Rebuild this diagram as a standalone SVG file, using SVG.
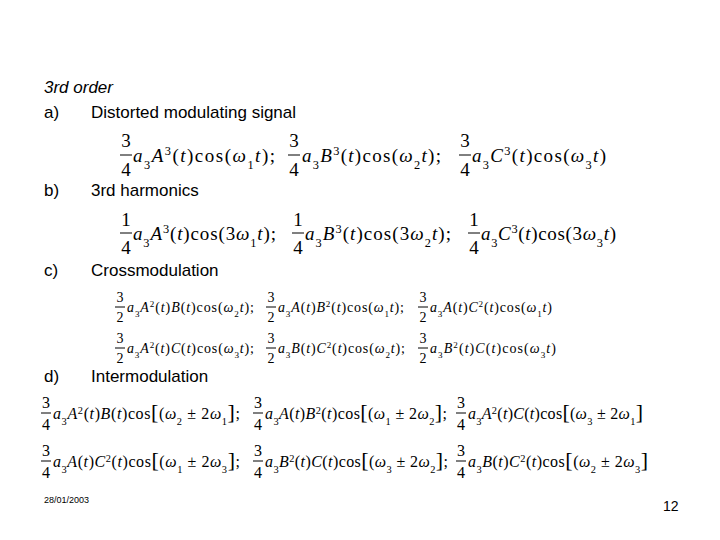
<svg xmlns="http://www.w3.org/2000/svg" width="720" height="540" viewBox="0 0 720 540">
<style>
.t{font-family:"Liberation Sans",Arial,sans-serif;font-size:17px;fill:#000}
.m{font-family:"Liberation Serif","Times New Roman",serif;fill:#000}
.i{font-style:italic}
.s{font-size:65%}
.f{font-family:"Liberation Serif","Times New Roman",serif;fill:#000;text-anchor:middle}
line{stroke:#000;stroke-width:1}
.r1{font-size:19px}.r3{font-size:14px}.r4{font-size:16px}
</style>
<rect width="720" height="540" fill="#fff"/>
<text class="t i" x="44" y="93" font-style="italic">3rd order</text>
<text class="t" x="44" y="118">a)</text><text class="t" x="91" y="118">Distorted modulating signal</text>
<text class="t" x="44" y="196">b)</text><text class="t" x="91" y="196">3rd harmonics</text>
<text class="t" x="44" y="276">c)</text><text class="t" x="91" y="276">Crossmodulation</text>
<text class="t" x="44" y="382">d)</text><text class="t" x="91" y="382">Intermodulation</text>
<text x="44" y="503" style="font-family:'Liberation Sans',Arial,sans-serif;font-size:9px">28/01/2003</text>
<text x="663" y="511" style="font-family:'Liberation Sans',Arial,sans-serif;font-size:14px">12</text>

<g id="row-a" class="r1">
<text class="f r1" x="126" y="147">3</text><line x1="120" y1="155" x2="132" y2="155"/><text class="f r1" x="126" y="176">4</text>
<text class="m r1" x="133" y="162" textLength="142" lengthAdjust="spacing"><tspan class="i">a</tspan><tspan class="s" baseline-shift="sub">3</tspan><tspan class="i">A</tspan><tspan class="s" baseline-shift="super">3</tspan>(<tspan class="i">t</tspan>)cos(<tspan class="i">ω</tspan><tspan class="s" baseline-shift="sub">1</tspan><tspan class="i">t</tspan>);</text>
<text class="f r1" x="294" y="147">3</text><line x1="288" y1="155" x2="300" y2="155"/><text class="f r1" x="294" y="176">4</text>
<text class="m r1" x="302" y="162" textLength="139" lengthAdjust="spacing"><tspan class="i">a</tspan><tspan class="s" baseline-shift="sub">3</tspan><tspan class="i">B</tspan><tspan class="s" baseline-shift="super">3</tspan>(<tspan class="i">t</tspan>)cos(<tspan class="i">ω</tspan><tspan class="s" baseline-shift="sub">2</tspan><tspan class="i">t</tspan>);</text>
<text class="f r1" x="465" y="147">3</text><line x1="459" y1="155" x2="471" y2="155"/><text class="f r1" x="465" y="176">4</text>
<text class="m r1" x="472" y="162" textLength="134" lengthAdjust="spacing"><tspan class="i">a</tspan><tspan class="s" baseline-shift="sub">3</tspan><tspan class="i">C</tspan><tspan class="s" baseline-shift="super">3</tspan>(<tspan class="i">t</tspan>)cos(<tspan class="i">ω</tspan><tspan class="s" baseline-shift="sub">3</tspan><tspan class="i">t</tspan>)</text>
</g>

<g id="row-b">
<text class="f r1" x="126" y="226">1</text><line x1="120" y1="233" x2="132" y2="233"/><text class="f r1" x="126" y="254">4</text>
<text class="m r1" x="133" y="240" textLength="143" lengthAdjust="spacing"><tspan class="i">a</tspan><tspan class="s" baseline-shift="sub">3</tspan><tspan class="i">A</tspan><tspan class="s" baseline-shift="super">3</tspan>(<tspan class="i">t</tspan>)cos(3<tspan class="i">ω</tspan><tspan class="s" baseline-shift="sub">1</tspan><tspan class="i">t</tspan>);</text>
<text class="f r1" x="298" y="226">1</text><line x1="292" y1="233" x2="304" y2="233"/><text class="f r1" x="298" y="254">4</text>
<text class="m r1" x="305" y="240" textLength="146" lengthAdjust="spacing"><tspan class="i">a</tspan><tspan class="s" baseline-shift="sub">3</tspan><tspan class="i">B</tspan><tspan class="s" baseline-shift="super">3</tspan>(<tspan class="i">t</tspan>)cos(3<tspan class="i">ω</tspan><tspan class="s" baseline-shift="sub">2</tspan><tspan class="i">t</tspan>);</text>
<text class="f r1" x="474" y="226">1</text><line x1="468" y1="233" x2="480" y2="233"/><text class="f r1" x="474" y="254">4</text>
<text class="m r1" x="481" y="240" textLength="135" lengthAdjust="spacing"><tspan class="i">a</tspan><tspan class="s" baseline-shift="sub">3</tspan><tspan class="i">C</tspan><tspan class="s" baseline-shift="super">3</tspan>(<tspan class="i">t</tspan>)cos(3<tspan class="i">ω</tspan><tspan class="s" baseline-shift="sub">3</tspan><tspan class="i">t</tspan>)</text>
</g>

<g id="row-c">
<text class="f r3" x="120" y="302">3</text><line x1="115" y1="307" x2="125" y2="307"/><text class="f r3" x="120" y="322">2</text>
<text class="m r3" x="127" y="312" textLength="127" lengthAdjust="spacing"><tspan class="i">a</tspan><tspan class="s" baseline-shift="sub">3</tspan><tspan class="i">A</tspan><tspan class="s" baseline-shift="super">2</tspan>(<tspan class="i">t</tspan>)<tspan class="i">B</tspan>(<tspan class="i">t</tspan>)cos(<tspan class="i">ω</tspan><tspan class="s" baseline-shift="sub">2</tspan><tspan class="i">t</tspan>);</text>
<text class="f r3" x="271" y="302">3</text><line x1="266" y1="307" x2="276" y2="307"/><text class="f r3" x="271" y="322">2</text>
<text class="m r3" x="278" y="312" textLength="126" lengthAdjust="spacing"><tspan class="i">a</tspan><tspan class="s" baseline-shift="sub">3</tspan><tspan class="i">A</tspan>(<tspan class="i">t</tspan>)<tspan class="i">B</tspan><tspan class="s" baseline-shift="super">2</tspan>(<tspan class="i">t</tspan>)cos(<tspan class="i">ω</tspan><tspan class="s" baseline-shift="sub">1</tspan><tspan class="i">t</tspan>);</text>
<text class="f r3" x="423" y="302">3</text><line x1="418" y1="307" x2="428" y2="307"/><text class="f r3" x="423" y="322">2</text>
<text class="m r3" x="430" y="312" textLength="122" lengthAdjust="spacing"><tspan class="i">a</tspan><tspan class="s" baseline-shift="sub">3</tspan><tspan class="i">A</tspan>(<tspan class="i">t</tspan>)<tspan class="i">C</tspan><tspan class="s" baseline-shift="super">2</tspan>(<tspan class="i">t</tspan>)cos(<tspan class="i">ω</tspan><tspan class="s" baseline-shift="sub">1</tspan><tspan class="i">t</tspan>)</text>

<text class="f r3" x="120" y="343">3</text><line x1="115" y1="348" x2="125" y2="348"/><text class="f r3" x="120" y="363">2</text>
<text class="m r3" x="127" y="353" textLength="127" lengthAdjust="spacing"><tspan class="i">a</tspan><tspan class="s" baseline-shift="sub">3</tspan><tspan class="i">A</tspan><tspan class="s" baseline-shift="super">2</tspan>(<tspan class="i">t</tspan>)<tspan class="i">C</tspan>(<tspan class="i">t</tspan>)cos(<tspan class="i">ω</tspan><tspan class="s" baseline-shift="sub">3</tspan><tspan class="i">t</tspan>);</text>
<text class="f r3" x="271" y="343">3</text><line x1="266" y1="348" x2="276" y2="348"/><text class="f r3" x="271" y="363">2</text>
<text class="m r3" x="278" y="353" textLength="127" lengthAdjust="spacing"><tspan class="i">a</tspan><tspan class="s" baseline-shift="sub">3</tspan><tspan class="i">B</tspan>(<tspan class="i">t</tspan>)<tspan class="i">C</tspan><tspan class="s" baseline-shift="super">2</tspan>(<tspan class="i">t</tspan>)cos(<tspan class="i">ω</tspan><tspan class="s" baseline-shift="sub">2</tspan><tspan class="i">t</tspan>);</text>
<text class="f r3" x="423" y="343">3</text><line x1="418" y1="348" x2="428" y2="348"/><text class="f r3" x="423" y="363">2</text>
<text class="m r3" x="430" y="353" textLength="126" lengthAdjust="spacing"><tspan class="i">a</tspan><tspan class="s" baseline-shift="sub">3</tspan><tspan class="i">B</tspan><tspan class="s" baseline-shift="super">2</tspan>(<tspan class="i">t</tspan>)<tspan class="i">C</tspan>(<tspan class="i">t</tspan>)cos(<tspan class="i">ω</tspan><tspan class="s" baseline-shift="sub">3</tspan><tspan class="i">t</tspan>)</text>
</g>

<g id="row-d">
<text class="f r4" x="46" y="408">3</text><line x1="41" y1="413" x2="51" y2="413"/><text class="f r4" x="46" y="430">4</text>
<text class="m r4" x="53" y="419" textLength="187" lengthAdjust="spacing"><tspan class="i">a</tspan><tspan class="s" baseline-shift="sub">3</tspan><tspan class="i">A</tspan><tspan class="s" baseline-shift="super">2</tspan>(<tspan class="i">t</tspan>)<tspan class="i">B</tspan>(<tspan class="i">t</tspan>)cos<tspan font-size="22">[</tspan>(<tspan class="i">ω</tspan><tspan class="s" baseline-shift="sub">2</tspan> ± 2<tspan class="i">ω</tspan><tspan class="s" baseline-shift="sub">1</tspan><tspan font-size="22">]</tspan>;</text>
<text class="f r4" x="258" y="408">3</text><line x1="253" y1="413" x2="263" y2="413"/><text class="f r4" x="258" y="430">4</text>
<text class="m r4" x="265" y="419" textLength="182" lengthAdjust="spacing"><tspan class="i">a</tspan><tspan class="s" baseline-shift="sub">3</tspan><tspan class="i">A</tspan>(<tspan class="i">t</tspan>)<tspan class="i">B</tspan><tspan class="s" baseline-shift="super">2</tspan>(<tspan class="i">t</tspan>)cos<tspan font-size="22">[</tspan>(<tspan class="i">ω</tspan><tspan class="s" baseline-shift="sub">1</tspan> ± 2<tspan class="i">ω</tspan><tspan class="s" baseline-shift="sub">2</tspan><tspan font-size="22">]</tspan>;</text>
<text class="f r4" x="461" y="408">3</text><line x1="456" y1="413" x2="466" y2="413"/><text class="f r4" x="461" y="430">4</text>
<text class="m r4" x="468" y="419" textLength="175" lengthAdjust="spacing"><tspan class="i">a</tspan><tspan class="s" baseline-shift="sub">3</tspan><tspan class="i">A</tspan><tspan class="s" baseline-shift="super">2</tspan>(<tspan class="i">t</tspan>)<tspan class="i">C</tspan>(<tspan class="i">t</tspan>)cos<tspan font-size="22">[</tspan>(<tspan class="i">ω</tspan><tspan class="s" baseline-shift="sub">3</tspan> ± 2<tspan class="i">ω</tspan><tspan class="s" baseline-shift="sub">1</tspan><tspan font-size="22">]</tspan></text>

<text class="f r4" x="46" y="456">3</text><line x1="41" y1="461" x2="51" y2="461"/><text class="f r4" x="46" y="478">4</text>
<text class="m r4" x="53" y="467" textLength="187" lengthAdjust="spacing"><tspan class="i">a</tspan><tspan class="s" baseline-shift="sub">3</tspan><tspan class="i">A</tspan>(<tspan class="i">t</tspan>)<tspan class="i">C</tspan><tspan class="s" baseline-shift="super">2</tspan>(<tspan class="i">t</tspan>)cos<tspan font-size="22">[</tspan>(<tspan class="i">ω</tspan><tspan class="s" baseline-shift="sub">1</tspan> ± 2<tspan class="i">ω</tspan><tspan class="s" baseline-shift="sub">3</tspan><tspan font-size="22">]</tspan>;</text>
<text class="f r4" x="258" y="456">3</text><line x1="253" y1="461" x2="263" y2="461"/><text class="f r4" x="258" y="478">4</text>
<text class="m r4" x="265" y="467" textLength="183" lengthAdjust="spacing"><tspan class="i">a</tspan><tspan class="s" baseline-shift="sub">3</tspan><tspan class="i">B</tspan><tspan class="s" baseline-shift="super">2</tspan>(<tspan class="i">t</tspan>)<tspan class="i">C</tspan>(<tspan class="i">t</tspan>)cos<tspan font-size="22">[</tspan>(<tspan class="i">ω</tspan><tspan class="s" baseline-shift="sub">3</tspan> ± 2<tspan class="i">ω</tspan><tspan class="s" baseline-shift="sub">2</tspan><tspan font-size="22">]</tspan>;</text>
<text class="f r4" x="461" y="456">3</text><line x1="456" y1="461" x2="466" y2="461"/><text class="f r4" x="461" y="478">4</text>
<text class="m r4" x="468" y="467" textLength="180" lengthAdjust="spacing"><tspan class="i">a</tspan><tspan class="s" baseline-shift="sub">3</tspan><tspan class="i">B</tspan>(<tspan class="i">t</tspan>)<tspan class="i">C</tspan><tspan class="s" baseline-shift="super">2</tspan>(<tspan class="i">t</tspan>)cos<tspan font-size="22">[</tspan>(<tspan class="i">ω</tspan><tspan class="s" baseline-shift="sub">2</tspan> ± 2<tspan class="i">ω</tspan><tspan class="s" baseline-shift="sub">3</tspan><tspan font-size="22">]</tspan></text>
</g>
</svg>
